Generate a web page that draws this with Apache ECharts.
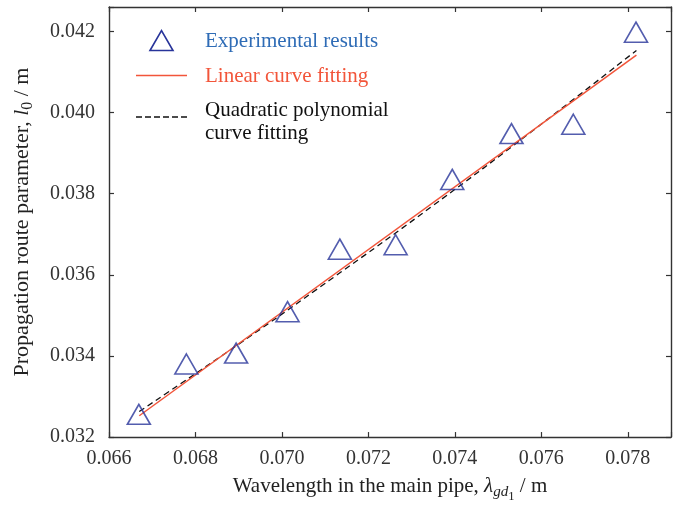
<!DOCTYPE html>
<html>
<head>
<meta charset="utf-8">
<script src="https://cdn.jsdelivr.net/npm/echarts@6/dist/echarts.min.js"></script>
<style>
  html, body { margin: 0; padding: 0; background: #fff; }
  #chart { width: 680px; height: 508px; }
</style>
</head>
<body>
<div id="chart"></div>
<script>
  // measured points (wavelength in main pipe vs route parameter)
  const wavelength = [0.06669, 0.06779, 0.06894, 0.07013, 0.07134, 0.07263, 0.07394, 0.07531, 0.07674, 0.07819]
  const routeParam = [0.03256, 0.03380, 0.03407, 0.03509, 0.03663, 0.03674, 0.03835, 0.03948, 0.03971, 0.04198]
  // linear fit, read at both ends
  const linearX = [0.0667, 0.0782]
  const linearY = [0.032525, 0.041414]
  // quadratic fit
  const quadX = [0.0667, 0.0690, 0.0712, 0.0735, 0.0758, 0.0782]
  const quadY = [0.03263, 0.03429, 0.03594, 0.03771, 0.03955, 0.04153]
  const xTickLabels = ['0.066', '0.068', '0.070', '0.072', '0.074', '0.076', '0.078']
  const yTickLabels = ['0.032', '0.034', '0.036', '0.038', '0.040', '0.042']
  const legendNames = ['Experimental results', 'Linear curve fitting', 'Quadratic polynomial\ncurve fitting']

  const serif = '"Liberation Serif", "DejaVu Serif", serif'
  const axisColor = '#333'
  const navy = '#28349a'
  const red = '#f2553a'

  const zip = (a, b) => a.map((v, i) => [v, b[i]])

  const baseAxis = {
    axisLine: { show: true, lineStyle: { color: axisColor, width: 1.4 } },
    axisTick: { show: true, inside: true, length: 5, lineStyle: { color: axisColor, width: 1.2 } },
    splitLine: { show: false }
  }

  const xRange = { type: 'value', min: 0.066, max: 0.079, interval: 0.002 }
  const yRange = { type: 'value', min: 0.032, max: 0.0426, interval: 0.002 }

  const richFor = size => ({
    i: { fontFamily: serif, fontSize: size, fontStyle: 'italic', color: '#222' },
    s: { fontFamily: serif, fontSize: size * 0.72, fontStyle: 'italic', color: '#222', padding: [size * 0.5, 0, 0, 0] },
    n: { fontFamily: serif, fontSize: size * 0.72, color: '#222', padding: [size * 0.5, 0, 0, 0] },
    ss: { fontFamily: serif, fontSize: size * 0.6, color: '#222', padding: [size * 0.95, 0, 0, 0] }
  })

  let myChart = echarts.init(document.getElementById('chart'))
  let option = {
    animation: false,
    backgroundColor: '#fff',
    grid: { left: 109, right: 9, top: 7, bottom: 69 },
    xAxis: [
      Object.assign({}, xRange, baseAxis, {
        position: 'bottom',
        name: 'Wavelength in the main pipe, {i|λ}{s|gd}{ss|1} / m',
        nameLocation: 'middle',
        nameGap: 33,
        nameTextStyle: { fontFamily: serif, fontSize: 21, color: '#222', rich: richFor(21) },
        axisLabel: {
          fontFamily: serif, fontSize: 20, color: '#333', margin: 12,
          formatter: v => xTickLabels.find(t => Math.abs(parseFloat(t) - v) < 1e-6) || ''
        }
      }),
      Object.assign({}, xRange, baseAxis, { position: 'top', axisLabel: { show: false } })
    ],
    yAxis: [
      Object.assign({}, yRange, baseAxis, {
        position: 'left',
        name: 'Propagation route parameter, {i|l}{n|0} / m',
        nameLocation: 'middle',
        nameRotate: 90,
        nameGap: 73,
        nameTextStyle: { fontFamily: serif, fontSize: 22, color: '#222', rich: richFor(22) },
        axisLabel: {
          fontFamily: serif, fontSize: 20, color: '#333', margin: 14,
          formatter: v => yTickLabels.find(t => Math.abs(parseFloat(t) - v) < 1e-6) || ''
        }
      }),
      Object.assign({}, yRange, baseAxis, { position: 'right', axisLabel: { show: false } })
    ],
    graphic: [
      {
        type: 'polygon', shape: { points: [[150, 50.5], [161.5, 30.5], [173, 50.5]] },
        style: { fill: 'none', stroke: navy, lineWidth: 1.6 }
      },
      { type: 'text', x: 205, y: 41, style: { text: legendNames[0], font: '21px ' + serif, fill: '#2f6cb6', verticalAlign: 'middle' } },
      { type: 'line', shape: { x1: 136, y1: 75.5, x2: 187, y2: 75.5 }, style: { stroke: red, lineWidth: 1.5 } },
      { type: 'text', x: 205, y: 76, style: { text: legendNames[1], font: '21px ' + serif, fill: red, verticalAlign: 'middle' } },
      { type: 'line', shape: { x1: 136, y1: 117, x2: 187, y2: 117 }, style: { stroke: '#111', lineWidth: 1.3, lineDash: [6, 3] } },
      { type: 'text', x: 205, y: 98.5, style: { text: legendNames[2], font: '21px ' + serif, fill: '#111', lineHeight: 23 } }
    ],
    series: [
      {
        name: legendNames[2],
        type: 'line',
        smooth: true,
        symbol: 'none',
        data: zip(quadX, quadY),
        lineStyle: { color: '#111', width: 1.3, type: [6, 4] },
        z: 2
      },
      {
        name: legendNames[1],
        type: 'line',
        symbol: 'none',
        data: zip(linearX, linearY),
        lineStyle: { color: red, width: 1.5 },
        z: 3
      },
      {
        name: legendNames[0],
        type: 'scatter',
        symbol: 'triangle',
        symbolSize: [23, 20],
        data: zip(wavelength, routeParam),
        itemStyle: { color: 'rgba(0,0,0,0)', borderColor: navy, borderWidth: 1.6 },
        z: 4
      }
    ]
  }
  myChart.setOption(option)
</script>
</body>
</html>
